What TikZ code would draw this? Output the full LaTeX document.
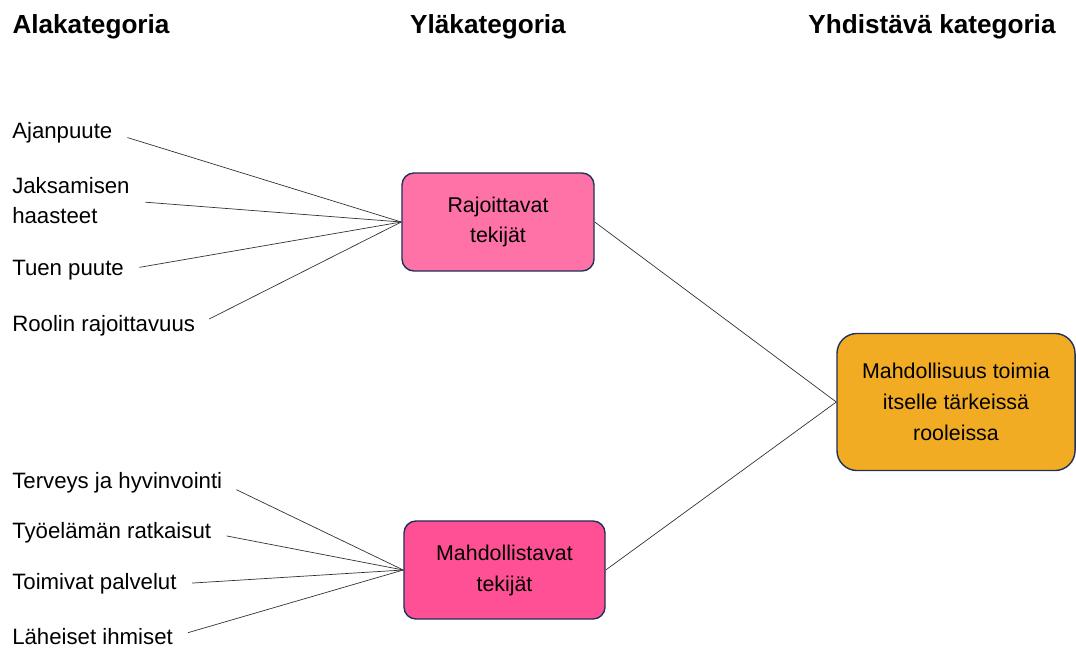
\documentclass[tikz,border=0pt]{standalone}
\usepackage{fontspec}
\setmainfont{Liberation Sans}
\definecolor{reuna}{RGB}{31,50,90}
\definecolor{rajo}{RGB}{255,114,168}
\definecolor{mahd}{RGB}{255,80,150}
\definecolor{yhd}{RGB}{242,172,36}
\begin{document}
\begin{tikzpicture}[x=0.025cm,y=-0.025cm,
  otsikko/.style={font=\fontsize{18.6}{22}\selectfont\bfseries,inner sep=0pt},
  ala/.style={anchor=west,inner sep=0pt,align=left,
    font=\fontsize{15.8}{21.3}\selectfont},
  laatikko/.style={draw=reuna,line width=1pt,rounded corners=0.3cm,align=center,
    minimum height=2.45cm,font=\fontsize{15.2}{22}\selectfont},
  viiva/.style={draw=black!80,line width=0.5pt}]
  \useasboundingbox (0,0) rectangle (1076,650);
  \node[otsikko] (H1) at (91,27) {Alakategoria};
  \node[otsikko] (H2) at (488,27) {Yläkategoria};
  \node[otsikko] (H3) at (932,27) {Yhdistävä kategoria};

  \node[laatikko,fill=rajo,minimum width=4.8cm] (R) at (498,222) {Rajoittavat\\tekijät};
  \node[laatikko,fill=mahd,minimum width=5.025cm] (M) at (504.5,570) {Mahdollistavat\\tekijät};
  \node[laatikko,fill=yhd,minimum width=5.95cm,minimum height=3.425cm,rounded corners=0.5cm]
    (Y) at (956,402) {Mahdollisuus toimia\\itselle tärkeissä\\rooleissa};

  \node[ala] (R1) at (12,133) {Ajanpuute};
  \node[ala] (R2) at (12,201) {Jaksamisen\\haasteet};
  \node[ala] (R3) at (12,270) {Tuen puute};
  \node[ala] (R4) at (12,326) {Roolin rajoittavuus};
  \node[ala] (M1) at (12,483) {Terveys ja hyvinvointi};
  \node[ala] (M2) at (12,533) {Työelämän ratkaisut};
  \node[ala] (M3) at (12,584) {Toimivat palvelut};
  \node[ala] (M4) at (12,637) {Läheiset ihmiset};

  \foreach \a in {R1,R2,R3,R4} \draw[viiva,shorten <=11pt] (\a.east) -- (R.west);
  \foreach \a in {M1,M2,M3,M4} \draw[viiva,shorten <=11pt] (\a.east) -- (M.west);
  \draw[viiva] (R.east) -- (Y.west);
  \draw[viiva] (M.east) -- (Y.west);
\end{tikzpicture}
\end{document}
